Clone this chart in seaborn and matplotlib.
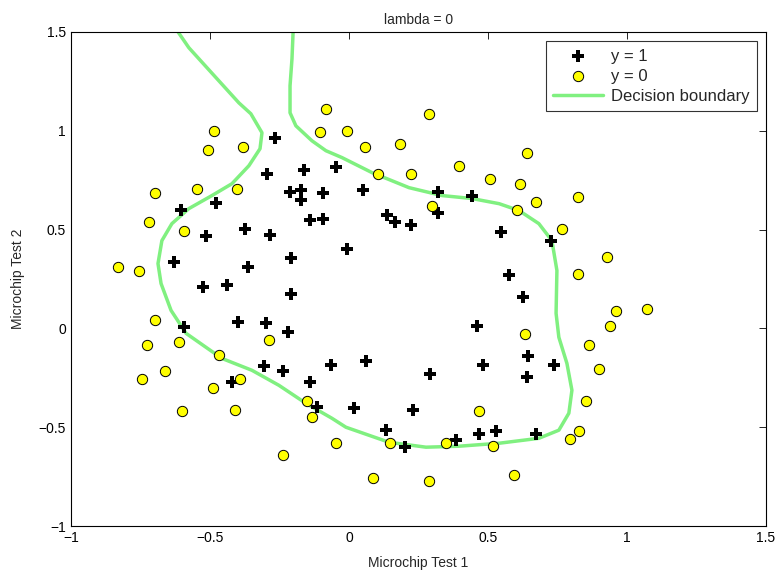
import numpy as np
import pandas as pd
import seaborn as sns
import matplotlib.pyplot as plt

# Microchip test data (Test 1, Test 2, accepted)
test1 = [0.051267, -0.092742, -0.21371, -0.375, -0.51325, -0.52477, -0.39804, -0.30588, 0.016705, 0.13191,
         0.38537, 0.52938, 0.63882, 0.73675, 0.54666, 0.322, 0.16647, -0.046659, -0.17339, -0.47869,
         -0.60541, -0.62846, -0.59389, -0.42108, -0.11578, 0.20104, 0.46601, 0.67339, -0.13882, -0.29435,
         -0.26555, -0.16187, -0.17339, -0.28283, -0.36348, -0.30012, -0.23675, -0.06394, 0.062788, 0.22984,
         0.2932, 0.48329, 0.64459, 0.46025, 0.6273, 0.57546, 0.72523, 0.22408, 0.44297, 0.322,
         0.13767, -0.0063364, -0.092742, -0.20795, -0.20795, -0.43836, -0.21947, -0.13882, 0.18376, 0.22408,
         0.29896, 0.50634, 0.61578, 0.60426, 0.76555, 0.92684, 0.82316, 0.96141, 0.93836, 0.86348,
         0.89804, 0.85196, 0.82892, 0.79435, 0.59274, 0.51786, 0.46601, 0.35081, 0.28744, 0.085829,
         0.14919, -0.13306, -0.40956, -0.39228, -0.74366, -0.69758, -0.75518, -0.69758, -0.4038, -0.38076,
         -0.50749, -0.54781, 0.10311, 0.057028, -0.10484, -0.081797, 0.28744, 0.39689, 0.63882, 0.82316,
         0.67339, 1.0709, -0.046659, -0.23675, -0.15035, -0.49021, -0.46717, -0.28859, -0.61118, -0.66302,
         -0.59965, -0.72638, -0.83007, -0.72062, -0.59389, -0.48445, -0.0063364, 0.63265]
test2 = [0.69956, 0.68494, 0.69225, 0.50219, 0.46564, 0.2098, 0.034357, -0.19225, -0.40424, -0.51389,
         -0.56506, -0.5212, -0.24342, -0.18494, 0.48757, 0.5826, 0.53874, 0.81652, 0.69956, 0.63377,
         0.59722, 0.33406, 0.005117, -0.27266, -0.39693, -0.60161, -0.53582, -0.53582, 0.54605, 0.77997,
         0.96272, 0.8019, 0.64839, 0.47295, 0.31213, 0.027047, -0.21418, -0.18494, -0.16301, -0.41155,
         -0.2288, -0.18494, -0.14108, 0.012427, 0.15863, 0.26827, 0.44371, 0.52412, 0.67032, 0.69225,
         0.57529, 0.39985, 0.55336, 0.35599, 0.17325, 0.21711, -0.016813, -0.27266, 0.93348, 0.77997,
         0.61915, 0.75804, 0.7288, 0.59722, 0.50219, 0.3633, 0.27558, 0.085526, 0.012427, -0.082602,
         -0.20687, -0.36769, -0.5212, -0.55775, -0.7405, -0.5943, -0.41886, -0.57968, -0.76974, -0.75512,
         -0.57968, -0.4481, -0.41155, -0.25804, -0.25804, 0.041667, 0.2902, 0.68494, 0.70687, 0.91886,
         0.90424, 0.70687, 0.77997, 0.91886, 0.99196, 1.1089, 1.087, 0.82383, 0.88962, 0.66301,
         0.64108, 0.10015, -0.57968, -0.63816, -0.36769, -0.3019, -0.13377, -0.0606, -0.067912, -0.21418,
         -0.41886, -0.082602, 0.31213, 0.53874, 0.49488, 0.99927, 0.99927, -0.030612]
accepted = [1] * 58 + [0] * 60

# Decision boundary (lambda = 0)
boundary_x = [-0.615, -0.576, -0.478, -0.396, -0.353, -0.313, -0.320, -0.360, -0.421, -0.493,
              -0.576, -0.637, -0.673, -0.687, -0.676, -0.640, -0.586, -0.514, -0.457, -0.349,
              -0.252, -0.155, -0.061, -0.011, 0.144, 0.277, 0.396, 0.540, 0.683, 0.755,
              0.791, 0.802, 0.784, 0.755, 0.745, 0.748, 0.730, 0.683, 0.612, 0.540,
              0.442, 0.335, 0.216, 0.083, -0.025, -0.083, -0.133, -0.191, -0.212, -0.212,
              -0.205, -0.201]
boundary_y = [1.50, 1.42, 1.268, 1.141, 1.086, 0.990, 0.909, 0.823, 0.732, 0.672,
              0.606, 0.530, 0.444, 0.328, 0.227, 0.091, -0.025, -0.096, -0.152, -0.212,
              -0.288, -0.379, -0.455, -0.500, -0.576, -0.601, -0.596, -0.581, -0.556, -0.515,
              -0.429, -0.313, -0.177, -0.045, 0.076, 0.293, 0.444, 0.530, 0.596, 0.631,
              0.657, 0.672, 0.712, 0.788, 0.864, 0.899, 0.949, 1.025, 1.091, 1.227,
              1.364, 1.50]

df = pd.DataFrame({'t1': test1, 't2': test2, 'y': accepted})
bd = pd.DataFrame({'x': boundary_x, 'y': boundary_y})

sns.set_style('white')
plt.rcParams['font.family'] = ['Liberation Sans', 'DejaVu Sans']

fig = plt.figure(figsize=(7.8, 5.8), dpi=100)
ax = fig.add_axes([0.091, 0.093, 0.891, 0.852])

pos = df[df['y'] == 1]
neg = df[df['y'] == 0]
sns.scatterplot(data=pos, x='t1', y='t2', marker='P', s=65, color='black',
                linewidth=0, ax=ax, label='y = 1', zorder=3)
sns.scatterplot(data=neg, x='t1', y='t2', marker='o', s=55, color='#FFFF00',
                edgecolor='black', linewidth=0.7, ax=ax, label='y = 0', zorder=3)
sns.lineplot(data=bd, x='x', y='y', sort=False, estimator=None, color='#80F080',
             linewidth=2.5, ax=ax, label='Decision boundary', zorder=2)

ax.set_xlim(-1, 1.5)
ax.set_ylim(-1, 1.5)
ax.set_xticks([-1, -0.5, 0, 0.5, 1, 1.5])
ax.set_yticks([-1, -0.5, 0, 0.5, 1, 1.5])
ax.set_xticklabels(['\u22121', '\u22120.5', '0', '0.5', '1', '1.5'])
ax.set_yticklabels(['\u22121', '\u22120.5', '0', '0.5', '1', '1.5'])
ax.tick_params(direction='in', top=True, right=True, length=5, width=0.6, labelsize=10, colors='black')
for sp in ax.spines.values():
    sp.set_color('black')
    sp.set_linewidth(0.8)
ax.set_xlabel('Microchip Test 1', fontsize=10, labelpad=8)
ax.set_ylabel('Microchip Test 2', fontsize=10, labelpad=10)
ax.set_title('lambda = 0', fontsize=10)

leg = ax.legend(loc='upper right', fontsize=12, frameon=True, fancybox=False,
                edgecolor='black', borderaxespad=0.55, handlelength=3.0,
                handletextpad=0.45, labelspacing=0.3, borderpad=0.45)
leg.get_frame().set_linewidth(0.8)

plt.savefig('out.png', dpi=100)
